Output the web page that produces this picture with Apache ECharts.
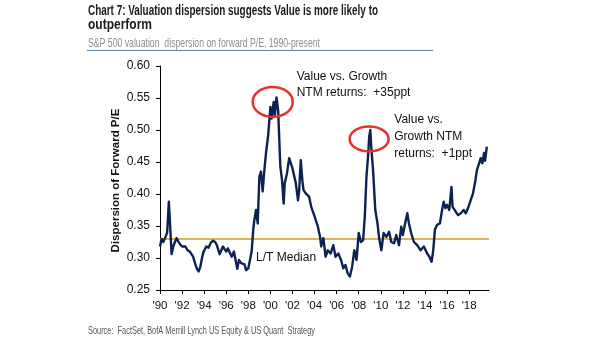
<!DOCTYPE html>
<html>
<head>
<meta charset="utf-8">
<script src="https://cdn.jsdelivr.net/npm/echarts@6/dist/echarts.min.js"></script>
<style>
  html, body { margin: 0; padding: 0; background: #ffffff; }
  #chart { width: 605px; height: 341px; }
</style>
</head>
<body>
<div id="chart"></div>
<script>
// S&P 500 valuation dispersion on forward P/E (decimal year, dispersion)
const years = [
  1990.0, 1990.15, 1990.3, 1990.5, 1990.65, 1990.8, 1990.95, 1991.05, 1991.2, 1991.35,
  1991.5, 1991.65, 1991.8, 1992.0, 1992.1, 1992.3, 1992.5, 1992.7, 1992.85, 1993.0,
  1993.2, 1993.35, 1993.5, 1993.65, 1993.8, 1993.95, 1994.2, 1994.4, 1994.6, 1994.8,
  1995.0, 1995.15, 1995.4, 1995.55, 1995.7, 1995.85, 1996.0, 1996.15, 1996.3, 1996.5,
  1996.7, 1996.85, 1997.0, 1997.15, 1997.35, 1997.5, 1997.65, 1997.8, 1998.0, 1998.15,
  1998.3, 1998.45, 1998.55, 1998.7, 1998.85, 1999.0, 1999.15, 1999.3, 1999.45, 1999.6,
  1999.8, 2000.0, 2000.1, 2000.3, 2000.4, 2000.55, 2000.7, 2000.9, 2001.05, 2001.2,
  2001.3, 2001.5, 2001.7, 2001.85, 2002.0, 2002.15, 2002.3, 2002.5, 2002.6, 2002.75,
  2002.9, 2003.0, 2003.2, 2003.5, 2003.7, 2004.0, 2004.3, 2004.5, 2004.6, 2004.8,
  2005.0, 2005.2, 2005.45, 2005.7, 2005.9, 2006.15, 2006.4, 2006.6, 2006.8, 2007.0,
  2007.2, 2007.4, 2007.6, 2007.8, 2008.0, 2008.2, 2008.4, 2008.55, 2008.7, 2008.85,
  2008.95, 2009.05, 2009.15, 2009.3, 2009.5, 2009.7, 2009.85, 2010.05, 2010.25, 2010.5,
  2010.75, 2010.95, 2011.2, 2011.4, 2011.65, 2011.85, 2012.0, 2012.2, 2012.4, 2012.55,
  2012.75, 2013.0, 2013.3, 2013.6, 2013.9, 2014.2, 2014.4, 2014.6, 2014.75, 2014.9,
  2015.1, 2015.35, 2015.55, 2015.7, 2015.85, 2016.0, 2016.2, 2016.4, 2016.5, 2016.8,
  2017.0, 2017.25, 2017.5, 2017.7, 2017.9, 2018.1, 2018.35, 2018.55, 2018.7, 2018.9,
  2019.05, 2019.2, 2019.35, 2019.45, 2019.6
];
const dispersion = [
  0.318, 0.330, 0.325, 0.333, 0.340, 0.388, 0.340, 0.306, 0.318, 0.325,
  0.331, 0.326, 0.322, 0.318, 0.315, 0.318, 0.312, 0.310, 0.313, 0.302,
  0.290, 0.283, 0.279, 0.286, 0.300, 0.310, 0.318, 0.316, 0.324, 0.327,
  0.325, 0.320, 0.306, 0.312, 0.318, 0.314, 0.310, 0.315, 0.312, 0.302,
  0.310, 0.296, 0.283, 0.297, 0.292, 0.295, 0.290, 0.281, 0.284, 0.297,
  0.310, 0.345, 0.360, 0.375, 0.354, 0.427, 0.435, 0.404, 0.437, 0.464,
  0.492, 0.536, 0.518, 0.544, 0.523, 0.551, 0.531, 0.443, 0.422, 0.385,
  0.417, 0.432, 0.456, 0.458, 0.440, 0.437, 0.417, 0.390, 0.404, 0.453,
  0.420, 0.406, 0.401, 0.396, 0.380, 0.365, 0.349, 0.333, 0.318, 0.331,
  0.302, 0.312, 0.307, 0.320, 0.302, 0.307, 0.297, 0.284, 0.289, 0.276,
  0.271, 0.286, 0.312, 0.297, 0.339, 0.325, 0.328, 0.365, 0.427, 0.460,
  0.490, 0.500, 0.470, 0.437, 0.375, 0.354, 0.331, 0.312, 0.339, 0.333,
  0.341, 0.325, 0.323, 0.336, 0.320, 0.349, 0.336, 0.354, 0.370, 0.354,
  0.339, 0.325, 0.320, 0.312, 0.318, 0.307, 0.302, 0.294, 0.312, 0.344,
  0.352, 0.354, 0.375, 0.388, 0.378, 0.383, 0.375, 0.411, 0.380, 0.372,
  0.367, 0.370, 0.375, 0.370, 0.378, 0.388, 0.401, 0.419, 0.437, 0.448,
  0.456, 0.448, 0.464, 0.452, 0.474
];
const medianValue = 0.33;
const xTickLabels = ["'90", "'92", "'94", "'96", "'98", "'00", "'02", "'04", "'06", "'08",
                     "'10", "'12", "'14", "'16", "'18"];
const yTickLabels = ["0.25", "0.30", "0.35", "0.40", "0.45", "0.50", "0.55", "0.60"];

const titleLine1 = 'Chart 7: Valuation dispersion suggests Value is more likely to';
const titleLine2 = 'outperform';
const subtitle = 'S&P 500 valuation  dispersion on forward P/E, 1990-present';
const source = 'Source:  FactSet, BofA Merrill Lynch US Equity & US Quant  Strategy';

const FONT = '"Liberation Sans", Arial, sans-serif';
const NARROW = '"Liberation Sans Narrow", "Liberation Sans", Arial, sans-serif';
const NAVY = '#0c2252';
const GOLD = '#d8b75a';
const RED = '#e5332a';

const chart = echarts.init(document.getElementById('chart'), null, { renderer: 'canvas' });

// fit a header string into a given pixel width by horizontal scaling
const measureCtx = document.createElement('canvas').getContext('2d');
function fitScale(text, font, width) {
  measureCtx.font = font;
  return width / measureCtx.measureText(text).width;
}

function headerText(text, x, y, size, weight, color, width) {
  const font = weight + ' ' + size + 'px ' + NARROW;
  return {
    type: 'text', x: x, y: y, originX: 0, originY: 0,
    scaleX: fitScale(text, font, width), silent: true,
    style: { text: text, x: 0, y: 0, fill: color, fontFamily: NARROW,
             fontSize: size, fontWeight: weight, align: 'left', verticalAlign: 'middle' }
  };
}

chart.setOption({
  animation: false,
  backgroundColor: '#ffffff',
  grid: { left: 160, right: 116, top: 66, bottom: 51, containLabel: false },
  xAxis: {
    type: 'value', min: 1990, max: 2019.8, interval: 2,
    axisLine: { lineStyle: { color: '#000', width: 1 } },
    axisTick: { show: true, length: 4, lineStyle: { color: '#000' } },
    splitLine: { show: false },
    axisLabel: {
      color: '#111', fontFamily: FONT, fontSize: 11.5, margin: 10,
      showMaxLabel: false,
      formatter: function (v) {
        const i = Math.round((v - 1990) / 2);
        return (Math.abs(v - 1990 - i * 2) < 1e-6 && xTickLabels[i]) ? xTickLabels[i] : '';
      }
    }
  },
  yAxis: {
    type: 'value', min: 0.25, max: 0.6, interval: 0.05,
    axisLine: { show: true, lineStyle: { color: '#000', width: 1 } },
    axisTick: { show: true, length: 4, lineStyle: { color: '#000' } },
    splitLine: { show: false },
    axisLabel: {
      color: '#111', fontFamily: FONT, fontSize: 12, margin: 10,
      formatter: function (v) {
        const i = Math.round((v - 0.25) / 0.05);
        return yTickLabels[i] || '';
      }
    }
  },
  series: [{
    type: 'line',
    data: years.map((y, i) => [y, dispersion[i]]),
    showSymbol: false,
    lineStyle: { color: NAVY, width: 2.4, join: 'round' },
    z: 3,
    markLine: {
      silent: true, symbol: 'none', label: { show: false },
      lineStyle: { color: GOLD, width: 2, type: 'solid' },
      data: [{ yAxis: medianValue }],
      z: 2
    }
  }]
});

const px = (year, val) => chart.convertToPixel({ gridIndex: 0 }, [year, val]);

const peak1 = px(2000.21, 0.5438);
const peak2 = px(2008.94, 0.486);
const anno1 = px(2002.38, 0.583);
const anno2 = px(2011.22, 0.516);
const medLbl = px(1998.7, 0.3);

const annoStyle = { fill: '#111', fontFamily: FONT, fontSize: 12, align: 'left', verticalAlign: 'top' };

chart.setOption({
  graphic: [
    headerText(titleLine1, 88, 11.5, 14, 'bold', '#1b1b1b', 290),
    headerText(titleLine2, 88, 25.5, 14, 'bold', '#1b1b1b', 64),
    headerText(subtitle, 88, 43.5, 12, 'normal', '#8e8e8e', 232),
    {
      type: 'line', silent: true,
      shape: { x1: 87, y1: 50.5, x2: 433, y2: 50.5 },
      style: { stroke: '#5b7db8', lineWidth: 1 }
    },
    headerText(source, 88, 331, 10.5, 'normal', '#555555', 227),
    {
      type: 'text', x: 116, y: 180.5, rotation: Math.PI / 2, silent: true,
      style: { text: 'Dispersion of Forward P/E', fill: '#111', fontFamily: FONT,
               fontSize: 11.5, fontWeight: 'bold', align: 'center', verticalAlign: 'middle' }
    },
    {
      type: 'ellipse', silent: true, z: 10,
      shape: { cx: peak1[0], cy: peak1[1], rx: 20, ry: 15 },
      style: { fill: 'none', stroke: RED, lineWidth: 2.5 }
    },
    {
      type: 'ellipse', silent: true, z: 10,
      shape: { cx: peak2[0], cy: peak2[1], rx: 19.5, ry: 12.5 },
      style: { fill: 'none', stroke: RED, lineWidth: 2.5 }
    },
    {
      type: 'text', x: anno1[0], y: anno1[1] - 8, silent: true,
      style: Object.assign({ text: 'Value vs. Growth\nNTM returns:  +35ppt', lineHeight: 16 }, annoStyle)
    },
    {
      type: 'text', x: anno2[0], y: anno2[1] - 8.5, silent: true,
      style: Object.assign({ text: 'Value vs.\nGrowth NTM\nreturns:  +1ppt', lineHeight: 17 }, annoStyle)
    },
    {
      type: 'text', x: medLbl[0], y: medLbl[1], silent: true,
      style: { text: 'L/T Median', fill: '#111', fontFamily: FONT, fontSize: 12,
               align: 'left', verticalAlign: 'middle' }
    }
  ]
});
</script>
</body>
</html>
